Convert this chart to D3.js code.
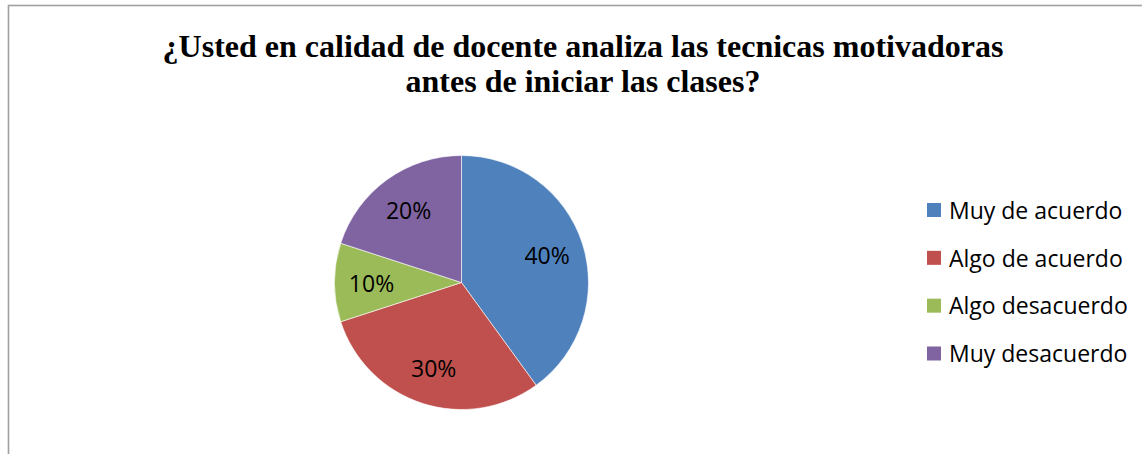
<!DOCTYPE html>
<html>
<head>
<meta charset="utf-8">
<script src="https://cdn.jsdelivr.net/npm/d3@7"></script>
<style>
  html, body { margin: 0; padding: 0; background: #fff; }
  svg { display: block; }
</style>
</head>
<body>
<svg id="chart" width="1142" height="454"></svg>
<script>
const categories = ["Muy de acuerdo", "Algo de acuerdo", "Algo desacuerdo", "Muy desacuerdo"];
const values = [40, 30, 10, 20];
const labels = ["40%", "30%", "10%", "20%"];
const colors = ["#4F81BD", "#C0504D", "#9BBB59", "#8064A2"];
const titleLines = ["¿Usted en calidad de docente analiza las tecnicas motivadoras", "antes de iniciar las clases?"];

const svg = d3.select("#chart");

// frame
svg.append("rect")
  .attr("x", 8.5).attr("y", 5.5)
  .attr("width", 1200).attr("height", 500)
  .attr("fill", "#fff")
  .attr("stroke", "#a0a0a0").attr("stroke-width", 1.6);

// title
const title = svg.append("text")
  .attr("text-anchor", "middle")
  .attr("font-family", "'Liberation Serif', 'Times New Roman', serif")
  .attr("font-weight", "bold")
  .attr("font-size", 32)
  .attr("fill", "#000");
title.selectAll("tspan").data(titleLines).join("tspan")
  .attr("x", 583)
  .attr("y", (d, i) => 57 + i * 35)
  .text(d => d);

// pie
const cx = 461.5, cy = 282.5, R = 127;
const pie = d3.pie().sort(null).value(d => d);
const arcs = pie(values);
const arc = d3.arc().innerRadius(0).outerRadius(R);
const labelArc = d3.arc().innerRadius(90).outerRadius(90);

const g = svg.append("g").attr("transform", `translate(${cx},${cy})`);
g.selectAll("path").data(arcs).join("path")
  .attr("d", arc)
  .attr("fill", (d, i) => colors[i])
  .attr("stroke", "#fff").attr("stroke-width", 0.6);

g.selectAll("text").data(arcs).join("text")
  .attr("transform", d => `translate(${labelArc.centroid(d)})`)
  .attr("text-anchor", "middle")
  .attr("dy", "0.4em")
  .attr("font-family", "'Open Sans', sans-serif")
  .attr("font-size", 23)
  .attr("fill", "#000")
  .text((d, i) => labels[i]);

// legend
const ly = d3.scalePoint().domain(categories).range([210.5, 354]);
const lg = svg.append("g");
const items = lg.selectAll("g").data(categories).join("g")
  .attr("transform", d => `translate(927,${ly(d)})`);
items.append("rect")
  .attr("x", 0).attr("y", -7.5)
  .attr("width", 14).attr("height", 14)
  .attr("fill", (d, i) => colors[i]);
items.append("text")
  .attr("x", 22).attr("dy", "0.36em")
  .attr("font-family", "'Open Sans', sans-serif")
  .attr("font-size", 23)
  .attr("fill", "#000")
  .text(d => d);
</script>
</body>
</html>
